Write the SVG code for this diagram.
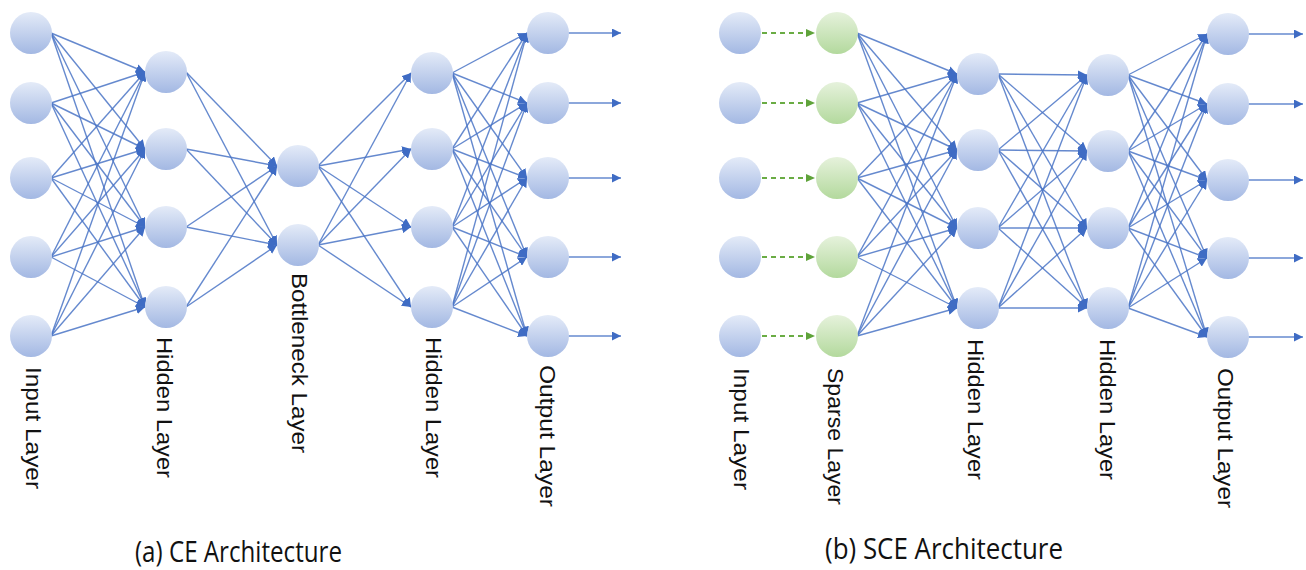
<svg xmlns="http://www.w3.org/2000/svg" width="1306" height="570" viewBox="0 0 1306 570">
<defs>
<linearGradient id="gBlue" x1="0" y1="0" x2="0" y2="1">
<stop offset="0" stop-color="#e4ebf8"/>
<stop offset="1" stop-color="#a3b8e3"/>
</linearGradient>
<linearGradient id="gGreen" x1="0" y1="0" x2="0" y2="1">
<stop offset="0" stop-color="#e6f2dc"/>
<stop offset="1" stop-color="#b3d99d"/>
</linearGradient>
<marker id="arr" markerUnits="userSpaceOnUse" markerWidth="10" markerHeight="9" refX="9" refY="4.5" orient="auto">
<path d="M0,0 L9,4.5 L0,9 z" fill="#3f6cc4"/>
</marker>
<marker id="arrG" markerUnits="userSpaceOnUse" markerWidth="10" markerHeight="9" refX="9" refY="4.5" orient="auto">
<path d="M0,0.5 L9,4.5 L0,8.5 z" fill="#5fa33a"/>
</marker>
</defs>
<style>
.b{fill:url(#gBlue);}
.g{fill:url(#gGreen);}
.e line{stroke:#4a74c6;stroke-width:1.4;stroke-opacity:0.85;marker-end:url(#arr);}
.d line{stroke:#6aac44;stroke-width:2;stroke-dasharray:5 4;marker-end:url(#arrG);}
.lbl{font-family:"Liberation Sans",Arial,sans-serif;font-size:22px;fill:#111;}
.cap{font-family:"Open Sans","Liberation Sans",sans-serif;font-size:30px;fill:#111;}
</style>
<rect width="1306" height="570" fill="#ffffff"/>

<g id="connectors">
<g class="e">
<!-- (a) input -> hidden -->
<line x1="51" y1="33" x2="145" y2="72"/><line x1="51" y1="33" x2="145" y2="149"/><line x1="51" y1="33" x2="145" y2="227"/><line x1="51" y1="33" x2="145" y2="307"/>
<line x1="51" y1="103" x2="145" y2="72"/><line x1="51" y1="103" x2="145" y2="149"/><line x1="51" y1="103" x2="145" y2="227"/><line x1="51" y1="103" x2="145" y2="307"/>
<line x1="51" y1="178" x2="145" y2="72"/><line x1="51" y1="178" x2="145" y2="149"/><line x1="51" y1="178" x2="145" y2="227"/><line x1="51" y1="178" x2="145" y2="307"/>
<line x1="51" y1="257" x2="145" y2="72"/><line x1="51" y1="257" x2="145" y2="149"/><line x1="51" y1="257" x2="145" y2="227"/><line x1="51" y1="257" x2="145" y2="307"/>
<line x1="51" y1="336" x2="145" y2="72"/><line x1="51" y1="336" x2="145" y2="149"/><line x1="51" y1="336" x2="145" y2="227"/><line x1="51" y1="336" x2="145" y2="307"/>
<!-- (a) hidden -> bottleneck -->
<line x1="186" y1="72" x2="277" y2="166"/><line x1="186" y1="72" x2="277" y2="245"/>
<line x1="186" y1="149" x2="277" y2="166"/><line x1="186" y1="149" x2="277" y2="245"/>
<line x1="186" y1="227" x2="277" y2="166"/><line x1="186" y1="227" x2="277" y2="245"/>
<line x1="186" y1="307" x2="277" y2="166"/><line x1="186" y1="307" x2="277" y2="245"/>
<!-- (a) bottleneck -> hidden -->
<line x1="318" y1="166" x2="411" y2="73"/><line x1="318" y1="166" x2="411" y2="149"/><line x1="318" y1="166" x2="411" y2="227"/><line x1="318" y1="166" x2="411" y2="307"/>
<line x1="318" y1="245" x2="411" y2="73"/><line x1="318" y1="245" x2="411" y2="149"/><line x1="318" y1="245" x2="411" y2="227"/><line x1="318" y1="245" x2="411" y2="307"/>
<!-- (a) hidden -> output -->
<line x1="452" y1="73" x2="527" y2="33"/><line x1="452" y1="73" x2="527" y2="103"/><line x1="452" y1="73" x2="527" y2="178"/><line x1="452" y1="73" x2="527" y2="257"/><line x1="452" y1="73" x2="527" y2="336"/>
<line x1="452" y1="149" x2="527" y2="33"/><line x1="452" y1="149" x2="527" y2="103"/><line x1="452" y1="149" x2="527" y2="178"/><line x1="452" y1="149" x2="527" y2="257"/><line x1="452" y1="149" x2="527" y2="336"/>
<line x1="452" y1="227" x2="527" y2="33"/><line x1="452" y1="227" x2="527" y2="103"/><line x1="452" y1="227" x2="527" y2="178"/><line x1="452" y1="227" x2="527" y2="257"/><line x1="452" y1="227" x2="527" y2="336"/>
<line x1="452" y1="307" x2="527" y2="33"/><line x1="452" y1="307" x2="527" y2="103"/><line x1="452" y1="307" x2="527" y2="178"/><line x1="452" y1="307" x2="527" y2="257"/><line x1="452" y1="307" x2="527" y2="336"/>
<!-- (a) outputs -->
<line x1="568" y1="33" x2="621" y2="33"/><line x1="568" y1="103" x2="621" y2="103"/><line x1="568" y1="178" x2="621" y2="178"/><line x1="568" y1="257" x2="621" y2="257"/><line x1="568" y1="336" x2="621" y2="336"/>

<!-- (b) sparse -> hidden -->
<line x1="857" y1="33" x2="957" y2="74"/><line x1="857" y1="33" x2="957" y2="150"/><line x1="857" y1="33" x2="957" y2="228"/><line x1="857" y1="33" x2="957" y2="308"/>
<line x1="857" y1="103" x2="957" y2="74"/><line x1="857" y1="103" x2="957" y2="150"/><line x1="857" y1="103" x2="957" y2="228"/><line x1="857" y1="103" x2="957" y2="308"/>
<line x1="857" y1="178" x2="957" y2="74"/><line x1="857" y1="178" x2="957" y2="150"/><line x1="857" y1="178" x2="957" y2="228"/><line x1="857" y1="178" x2="957" y2="308"/>
<line x1="857" y1="257" x2="957" y2="74"/><line x1="857" y1="257" x2="957" y2="150"/><line x1="857" y1="257" x2="957" y2="228"/><line x1="857" y1="257" x2="957" y2="308"/>
<line x1="857" y1="336" x2="957" y2="74"/><line x1="857" y1="336" x2="957" y2="150"/><line x1="857" y1="336" x2="957" y2="228"/><line x1="857" y1="336" x2="957" y2="308"/>
<!-- (b) hidden -> hidden -->
<line x1="998" y1="74" x2="1087" y2="75"/><line x1="998" y1="74" x2="1087" y2="151"/><line x1="998" y1="74" x2="1087" y2="228"/><line x1="998" y1="74" x2="1087" y2="308"/>
<line x1="998" y1="150" x2="1087" y2="75"/><line x1="998" y1="150" x2="1087" y2="151"/><line x1="998" y1="150" x2="1087" y2="228"/><line x1="998" y1="150" x2="1087" y2="308"/>
<line x1="998" y1="228" x2="1087" y2="75"/><line x1="998" y1="228" x2="1087" y2="151"/><line x1="998" y1="228" x2="1087" y2="228"/><line x1="998" y1="228" x2="1087" y2="308"/>
<line x1="998" y1="308" x2="1087" y2="75"/><line x1="998" y1="308" x2="1087" y2="151"/><line x1="998" y1="308" x2="1087" y2="228"/><line x1="998" y1="308" x2="1087" y2="308"/>
<!-- (b) hidden -> output -->
<line x1="1128" y1="75" x2="1207" y2="34"/><line x1="1128" y1="75" x2="1207" y2="104"/><line x1="1128" y1="75" x2="1207" y2="180"/><line x1="1128" y1="75" x2="1207" y2="258"/><line x1="1128" y1="75" x2="1207" y2="337"/>
<line x1="1128" y1="151" x2="1207" y2="34"/><line x1="1128" y1="151" x2="1207" y2="104"/><line x1="1128" y1="151" x2="1207" y2="180"/><line x1="1128" y1="151" x2="1207" y2="258"/><line x1="1128" y1="151" x2="1207" y2="337"/>
<line x1="1128" y1="228" x2="1207" y2="34"/><line x1="1128" y1="228" x2="1207" y2="104"/><line x1="1128" y1="228" x2="1207" y2="180"/><line x1="1128" y1="228" x2="1207" y2="258"/><line x1="1128" y1="228" x2="1207" y2="337"/>
<line x1="1128" y1="308" x2="1207" y2="34"/><line x1="1128" y1="308" x2="1207" y2="104"/><line x1="1128" y1="308" x2="1207" y2="180"/><line x1="1128" y1="308" x2="1207" y2="258"/><line x1="1128" y1="308" x2="1207" y2="337"/>
<!-- (b) outputs -->
<line x1="1248" y1="34" x2="1303" y2="34"/><line x1="1248" y1="104" x2="1303" y2="104"/><line x1="1248" y1="180" x2="1303" y2="180"/><line x1="1248" y1="258" x2="1303" y2="258"/><line x1="1248" y1="337" x2="1303" y2="337"/>
</g>
<g class="d">
<line x1="762" y1="33" x2="815" y2="33"/><line x1="762" y1="103" x2="815" y2="103"/><line x1="762" y1="178" x2="815" y2="178"/><line x1="762" y1="257" x2="815" y2="257"/><line x1="762" y1="336" x2="815" y2="336"/>
</g>
</g>

<!-- (a) nodes -->
<g id="a-input"><circle class="b" cx="31" cy="33" r="21"/><circle class="b" cx="31" cy="103" r="21"/><circle class="b" cx="31" cy="178" r="21"/><circle class="b" cx="31" cy="257" r="21"/><circle class="b" cx="31" cy="336" r="21"/></g>
<g id="a-hidden1"><circle class="b" cx="166" cy="72" r="21"/><circle class="b" cx="166" cy="149" r="21"/><circle class="b" cx="166" cy="227" r="21"/><circle class="b" cx="166" cy="307" r="21"/></g>
<g id="a-bottleneck"><circle class="b" cx="298" cy="166" r="21"/><circle class="b" cx="298" cy="245" r="21"/></g>
<g id="a-hidden2"><circle class="b" cx="432" cy="73" r="21"/><circle class="b" cx="432" cy="149" r="21"/><circle class="b" cx="432" cy="227" r="21"/><circle class="b" cx="432" cy="307" r="21"/></g>
<g id="a-output"><circle class="b" cx="548" cy="33" r="21"/><circle class="b" cx="548" cy="103" r="21"/><circle class="b" cx="548" cy="178" r="21"/><circle class="b" cx="548" cy="257" r="21"/><circle class="b" cx="548" cy="336" r="21"/></g>

<!-- (b) nodes -->
<g id="b-input"><circle class="b" cx="740" cy="33" r="21"/><circle class="b" cx="740" cy="103" r="21"/><circle class="b" cx="740" cy="178" r="21"/><circle class="b" cx="740" cy="257" r="21"/><circle class="b" cx="740" cy="336" r="21"/></g>
<g id="b-sparse"><circle class="g" cx="837" cy="33" r="21"/><circle class="g" cx="837" cy="103" r="21"/><circle class="g" cx="837" cy="178" r="21"/><circle class="g" cx="837" cy="257" r="21"/><circle class="g" cx="837" cy="336" r="21"/></g>
<g id="b-hidden1"><circle class="b" cx="978" cy="74" r="21"/><circle class="b" cx="978" cy="150" r="21"/><circle class="b" cx="978" cy="228" r="21"/><circle class="b" cx="978" cy="308" r="21"/></g>
<g id="b-hidden2"><circle class="b" cx="1108" cy="75" r="21"/><circle class="b" cx="1108" cy="151" r="21"/><circle class="b" cx="1108" cy="228" r="21"/><circle class="b" cx="1108" cy="308" r="21"/></g>
<g id="b-output"><circle class="b" cx="1228" cy="34" r="21"/><circle class="b" cx="1228" cy="104" r="21"/><circle class="b" cx="1228" cy="180" r="21"/><circle class="b" cx="1228" cy="258" r="21"/><circle class="b" cx="1228" cy="337" r="21"/></g>

<g id="labels">
<text class="lbl" transform="translate(26,367) rotate(90)" textLength="122" lengthAdjust="spacingAndGlyphs">Input Layer</text>
<text class="lbl" transform="translate(157,337) rotate(90)" textLength="141" lengthAdjust="spacingAndGlyphs">Hidden Layer</text>
<text class="lbl" transform="translate(292,273) rotate(90)" textLength="180" lengthAdjust="spacingAndGlyphs">Bottleneck Layer</text>
<text class="lbl" transform="translate(426,337) rotate(90)" textLength="141" lengthAdjust="spacingAndGlyphs">Hidden Layer</text>
<text class="lbl" transform="translate(540,365) rotate(90)" textLength="142" lengthAdjust="spacingAndGlyphs">Output Layer</text>
<text class="lbl" transform="translate(734,368) rotate(90)" textLength="122" lengthAdjust="spacingAndGlyphs">Input Layer</text>
<text class="lbl" transform="translate(828,368) rotate(90)" textLength="137" lengthAdjust="spacingAndGlyphs">Sparse Layer</text>
<text class="lbl" transform="translate(968,339) rotate(90)" textLength="141" lengthAdjust="spacingAndGlyphs">Hidden Layer</text>
<text class="lbl" transform="translate(1100,339) rotate(90)" textLength="141" lengthAdjust="spacingAndGlyphs">Hidden Layer</text>
<text class="lbl" transform="translate(1218,368) rotate(90)" textLength="140" lengthAdjust="spacingAndGlyphs">Output Layer</text>
<text class="cap" x="135" y="562" textLength="207" lengthAdjust="spacingAndGlyphs">(a) CE Architecture</text>
<text class="cap" x="825" y="559" textLength="238" lengthAdjust="spacingAndGlyphs">(b) SCE Architecture</text>
</g>
</svg>
